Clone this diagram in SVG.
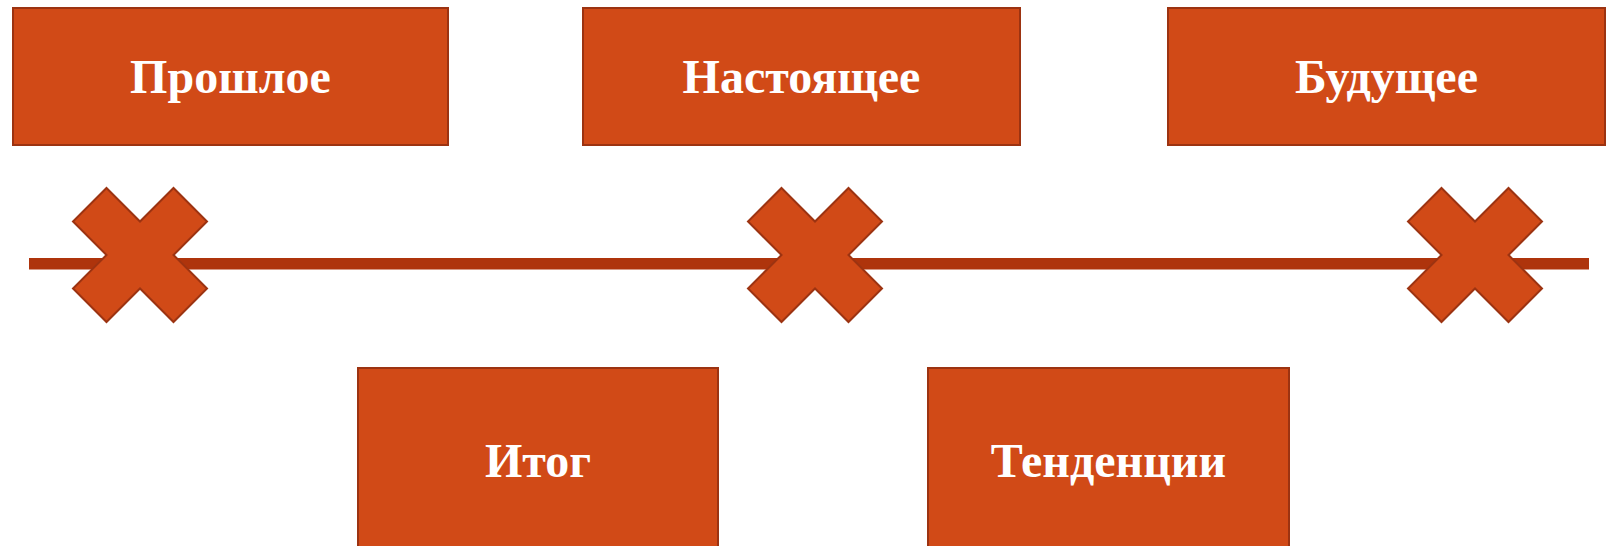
<svg xmlns="http://www.w3.org/2000/svg" width="1609" height="546" viewBox="0 0 1609 546">
  <defs>
    <style>
      .box { fill: #D14A17; stroke: #9C3311; stroke-width: 2; }
      .cross { fill: #D14A17; stroke: #9C3311; stroke-width: 2; stroke-linejoin: miter; }
      .lbl { font-family: "Liberation Serif", "Times New Roman", serif; font-weight: bold; font-size: 48px; fill: #FFFFFF; text-anchor: middle; }
    </style>
    <polygon id="x" class="cross" points="-33.5,-67 0,-33.5 33.5,-67 67,-33.5 33.5,0 67,33.5 33.5,67 0,33.5 -33.5,67 -67,33.5 -33.5,0 -67,-33.5"/>
  </defs>
  <rect width="1609" height="546" fill="#FFFFFF"/>
  <g id="connectors">
    <rect x="29" y="258" width="1560" height="11.5" fill="#AE340C"/>
  </g>
  <g id="mark-past"><use href="#x" x="140" y="255"/></g>
  <g id="mark-present"><use href="#x" x="815" y="255"/></g>
  <g id="mark-future"><use href="#x" x="1475" y="255"/></g>
  <g id="past">
    <rect class="box" x="13" y="8" width="435" height="137"/>
    <text class="lbl" x="230.5" y="93">Прошлое</text>
  </g>
  <g id="present">
    <rect class="box" x="583" y="8" width="437" height="137"/>
    <text class="lbl" x="801.5" y="93">Настоящее</text>
  </g>
  <g id="future">
    <rect class="box" x="1168" y="8" width="437" height="137"/>
    <text class="lbl" x="1386.5" y="93">Будущее</text>
  </g>
  <g id="result">
    <rect class="box" x="358" y="368" width="360" height="200"/>
    <text class="lbl" x="538" y="477">Итог</text>
  </g>
  <g id="trends">
    <rect class="box" x="928" y="368" width="361" height="200"/>
    <text class="lbl" x="1108.5" y="477">Тенденции</text>
  </g>
</svg>
